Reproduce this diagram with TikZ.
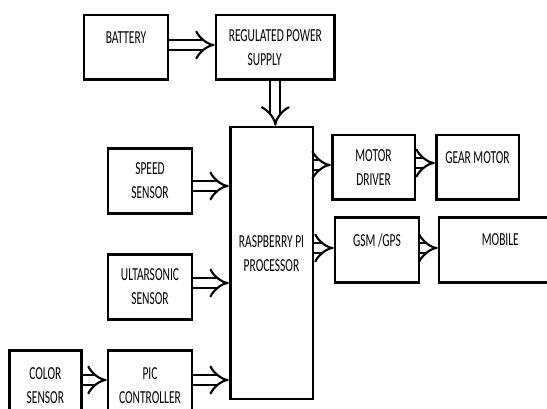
\documentclass[tikz,border=0pt]{standalone}
\usepackage{fontspec}
\usepackage{graphicx}
\setmainfont{Carlito}
\usetikzlibrary{positioning, arrows.meta}

% tall narrow caps, as in the reference
\newcommand{\tl}[1]{\scalebox{1}[1.6]{#1}}

\begin{document}
\begin{tikzpicture}[
        x=0.75pt, y=-0.75pt,
        blk/.style={
            draw, line width=2pt, align=center, inner sep=0pt,
            minimum width=63pt, minimum height=48.5pt,
            font=\fontsize{8.6}{18}\selectfont
        },
        lbl/.style={align=center, font=\fontsize{8.6}{18}\selectfont},
        darr/.style={
            double, double distance=6pt, line width=1.6pt,
            -{Implies[length=9pt, width=22pt]}
        }
    ]
    \useasboundingbox (0,0) rectangle (547,409);
    \clip (0,0) rectangle (547,409);

    % Battery
    \node[blk] (bat) at (126,47.5)
        {\tl{BATTERY}\\[-3pt]\mbox{}};

    % Regulated power supply
    \node[blk, minimum width=89pt, right=34pt of bat] (rps)
        {\tl{REGULATED POWER}\\\tl{SUPPLY}\hspace*{16pt}};

    % Raspberry Pi
    \node[blk, minimum width=62pt, minimum height=204pt,
          label={[lbl, yshift=7pt]center:{\tl{RASPBERRY PI}\\\tl{PROCESSOR}}}]
          (rpi) at (271.5,263) {};

    % Speed sensor
    \node[blk] (spd) at (150,181)
        {\tl{SPEED}\\\tl{SENSOR}};

    % Ultrasonic sensor
    \node[blk, below=29pt of spd] (ult)
        {\tl{ULTARSONIC}\\\tl{SENSOR}};

    % PIC controller
    \node[blk, minimum height=53pt, below=21.5pt of ult] (pic)
        {\tl{PIC}\\\tl{CONTROLLER}};

    % Color sensor
    \node[blk, minimum width=54pt, minimum height=53pt, left=18pt of pic] (col)
        {\tl{COLOR}\\\tl{SENSOR}};

    % Motor driver
    \node[blk, minimum width=62pt] (mdr) at (373.5,167.5)
        {\tl{MOTOR}\\\tl{DRIVER}};

    % Gear motor
    \node[blk, minimum width=62pt, right=14pt of mdr] (gmt)
        {\tl{GEAR MOTOR}\\[-3pt]\mbox{}};

    % GSM / GPS
    \node[blk] (gsm) at (377,250)
        {\tl{GSM /GPS}\\[-3pt]\mbox{}};

    % Mobile
    \node[blk, minimum width=106pt, right=13pt of gsm] (mob)
        {\tl{MOBILE}\hspace*{14pt}\\[-3pt]\mbox{}};

    % arrows
    \draw[darr] (bat.east |- 0,45) -- (rps.west |- 0,45);
    \draw[darr] (rps.south) -- (rps.south |- rpi.north);
    \draw[darr] (spd.east |- 0,186) -- (rpi.west |- 0,186);
    \draw[darr] (ult.east |- 0,283) -- (rpi.west |- 0,283);
    \draw[darr] (pic.east |- 0,380) -- (rpi.west |- 0,380);
    \draw[darr] (col.east |- 0,380) -- (pic.west |- 0,380);
    \draw[darr] (rpi.east |- 0,165) -- (mdr.west |- 0,165);
    \draw[darr] (mdr.east |- 0,163) -- (gmt.west |- 0,163);
    \draw[darr] (rpi.east |- 0,248) -- (gsm.west |- 0,248);
    \draw[darr] (gsm.east |- 0,248) -- (mob.west |- 0,248);

\end{tikzpicture}
\end{document}
